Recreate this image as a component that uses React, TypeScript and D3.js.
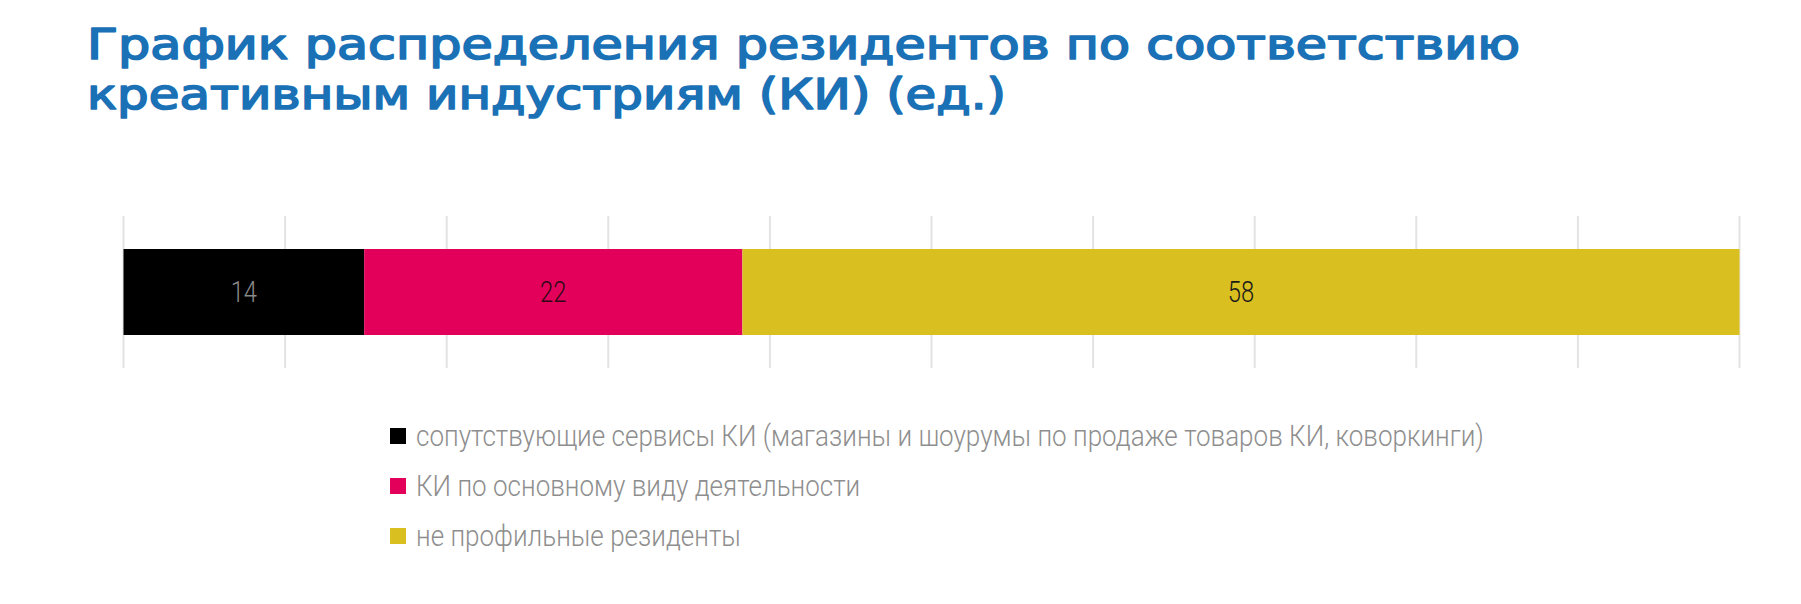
import React, {useEffect, useRef} from 'react';
import * as d3 from 'd3';

const titleLines = [
    'График распределения резидентов по соответствию',
    'креативным индустриям (КИ) (ед.)'
];
const categories = [
    'сопутствующие сервисы КИ (магазины и шоурумы по продаже товаров КИ, коворкинги)',
    'КИ по основному виду деятельности',
    'не профильные резиденты'
];
const values = [14, 22, 58];
const colors = ['#000000', '#e3005b', '#d9bf1f'];
const labelColors = ['#8a8a8a', '#2e0814', '#1a1a1a'];
const gridCount = 10;

const App: React.FC = () => {
    const svgRef = useRef<SVGSVGElement | null>(null);

    useEffect(() => {
        const svg = d3.select(svgRef.current);
        svg.selectAll('*').remove();

        const width = 1801;
        const height = 604;
        svg.attr('width', width).attr('height', height);

        // title
        const titleWidths = [1433, 919];
        svg.selectAll('text.title')
            .data(titleLines)
            .enter().append('text')
            .attr('class', 'title')
            .attr('x', 87)
            .attr('y', (d, i) => 59 + i * 50)
            .attr('font-family', 'DejaVu Sans')
            .attr('font-size', '42px')
            .attr('fill', '#1b71b6')
            .attr('stroke', '#1b71b6')
            .attr('stroke-width', 1.7)
            .attr('stroke-linejoin', 'round')
            .attr('textLength', (d, i) => titleWidths[i])
            .attr('lengthAdjust', 'spacingAndGlyphs')
            .text(d => d);

        const total = d3.sum(values);
        const x = d3.scaleLinear().domain([0, total]).range([123.5, 1739.5]);
        const barTop = 249;
        const barH = 86;

        // grid
        const gridVals = d3.range(gridCount + 1).map(i => total * i / gridCount);
        svg.append('g')
            .selectAll('line')
            .data(gridVals)
            .enter().append('line')
            .attr('x1', d => x(d))
            .attr('x2', d => x(d))
            .attr('y1', barTop - 33)
            .attr('y2', barTop + barH + 33)
            .attr('stroke', '#e3e3e3')
            .attr('stroke-width', 2);

        // stacked segments
        const starts = values.map((v, i) => d3.sum(values.slice(0, i)));
        const seg = svg.append('g');
        seg.selectAll('rect')
            .data(values)
            .enter().append('rect')
            .attr('x', (d, i) => x(starts[i]))
            .attr('y', barTop)
            .attr('width', (d, i) => x(starts[i] + d) - x(starts[i]))
            .attr('height', barH)
            .attr('fill', (d, i) => colors[i]);

        seg.selectAll('g.lbl')
            .data(values)
            .enter().append('g')
            .attr('class', 'lbl')
            .attr('transform', (d, i) => `translate(${x(starts[i] + d / 2)},${barTop + barH / 2 + 10}) scale(0.82,1)`)
            .append('text')
            .attr('text-anchor', 'middle')
            .attr('font-family', 'Roboto')
            .attr('font-weight', 300)
            .attr('font-size', '29px')
            .attr('fill', (d, i) => labelColors[i])
            .text(d => d);

        // legend
        const legend = svg.append('g')
            .selectAll('g')
            .data(categories)
            .enter().append('g')
            .attr('transform', (d, i) => `translate(390,${436 + i * 50})`);
        legend.append('rect')
            .attr('x', 0)
            .attr('y', -8)
            .attr('width', 16)
            .attr('height', 16)
            .attr('fill', (d, i) => colors[i]);
        legend.append('g')
            .attr('transform', 'translate(26,10) scale(0.868,1)')
            .append('text')
            .attr('font-family', 'Roboto')
            .attr('font-weight', 300)
            .attr('font-size', '30px')
            .attr('fill', '#8e8e8e')
            .text(d => d);
    }, []);

    return (
        <svg ref={svgRef} style={{position: 'absolute', left: 0, top: 0}}/>
    );
};

export default App;
